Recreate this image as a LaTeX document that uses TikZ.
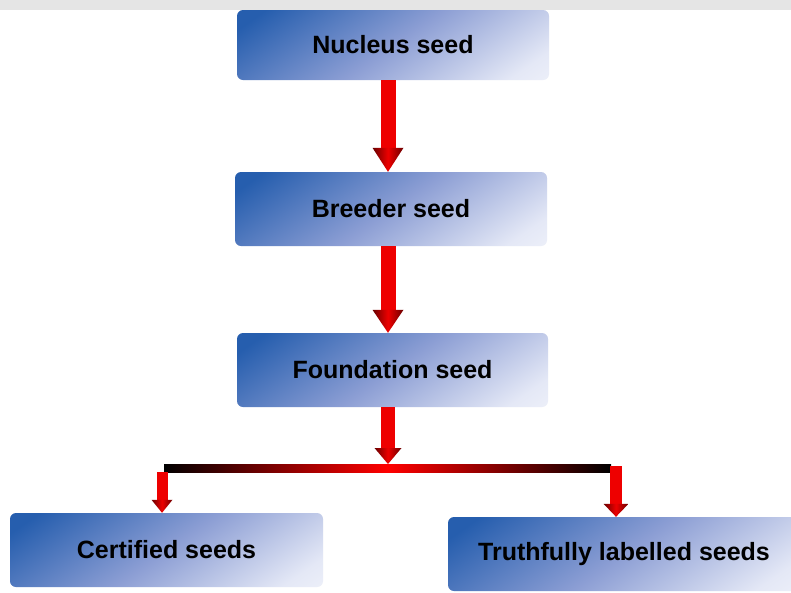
\documentclass[tikz,border=0pt]{standalone}
\usepackage{fontspec}
\setmainfont{Liberation Sans}
\usetikzlibrary{calc}
\definecolor{boxblue}{RGB}{38,94,174}
\definecolor{boxmid}{RGB}{140,158,212}
\definecolor{boxlight}{RGB}{228,232,246}
\definecolor{arrred}{RGB}{238,0,0}
\definecolor{arrdark}{RGB}{105,0,0}
\definecolor{bandgray}{RGB}{229,229,229}
\pgfdeclarehorizontalshading{seedshade}{100bp}{color(0bp)=(boxblue); color(20bp)=(boxblue); color(50bp)=(boxmid); color(78bp)=(boxlight); color(100bp)=(white)}
\tikzset{
  seedbox/.style={shading=seedshade, shading angle=-55, rounded corners=6pt, inner sep=0pt, minimum height=74pt,
    font=\fontsize{25}{30}\selectfont\bfseries, text=black},
  arrowhead/.style={left color=arrdark, right color=arrdark, middle color=arrred},
}
% #1 start, #2 end, #3 half shaft width, #4 half head width, #5 head length
\newcommand\redarrow[5]{%
  \fill[arrred] let \p1=#1, \p2=#2 in (\x1-#3,\y1) rectangle (\x1+#3,\y2+#5);
  \shade[arrowhead] let \p1=#1, \p2=#2 in (\x1-#4,\y2+#5) -- (\x1+#4,\y2+#5) -- (\x1,\y2) -- cycle;
}
\begin{document}
\begin{tikzpicture}[x=1pt,y=-1pt]
\useasboundingbox (0,0) rectangle (791,592);
\fill[white] (0,0) rectangle (791,592);
\fill[bandgray] (0,0) rectangle (791,10);
\node[seedbox, minimum width=312pt, minimum height=70pt] (nuc) at (393,45) {Nucleus seed};
\node[seedbox, minimum width=312pt] (bre) at (391,209) {Breeder seed};
\node[seedbox, minimum width=311pt] (fou) at (392.5,370) {Foundation seed};
\node[seedbox, minimum width=313pt] (cer) at (166.5,550) {Certified seeds};
\node[seedbox, minimum width=352pt] (tru) at (624,554) {Truthfully labelled seeds};
\coordinate (j) at (388,464);
\coordinate (bl) at (162,472);
\coordinate (br) at (616,466);
\redarrow{(nuc.south -| j)}{(bre.north -| j)}{7.5pt}{15.5pt}{24pt}
\redarrow{(bre.south -| j)}{(fou.north -| j)}{7.5pt}{15.5pt}{23pt}
\redarrow{(fou.south -| j)}{(j)}{7pt}{13.5pt}{16pt}
\shade[left color=black, right color=black, middle color=red] (164,464) rectangle (611,472);
\redarrow{(bl)}{(cer.north -| bl)}{5.5pt}{10.5pt}{13pt}
\redarrow{(br)}{(tru.north -| br)}{6pt}{12.5pt}{13pt}
\end{tikzpicture}
\end{document}
